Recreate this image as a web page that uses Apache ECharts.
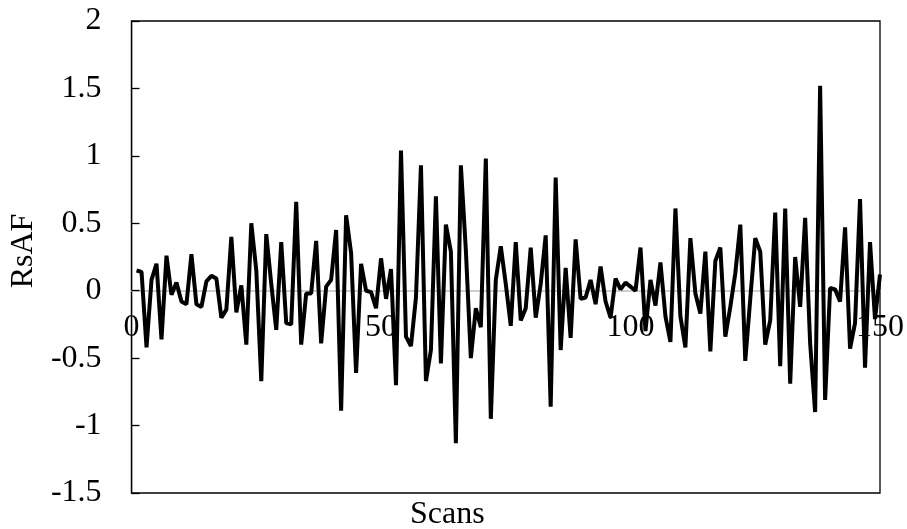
<!DOCTYPE html>
<html>
<head>
<meta charset="utf-8">
<script src="https://cdn.jsdelivr.net/npm/echarts@6/dist/echarts.min.js"></script>
<style>
  html, body { margin: 0; padding: 0; background: #fff; }
  #chart { width: 907px; height: 529px; }
</style>
</head>
<body>
<div id="chart"></div>
<script>
// RsAF value for each scan, scans 1..150
const rsaf = [
  0.15, 0.14, -0.42, 0.08, 0.2, -0.36, 0.26, -0.03, 0.06, -0.08,
  -0.1, 0.27, -0.1, -0.12, 0.07, 0.11, 0.09, -0.2, -0.14, 0.4,
  -0.16, 0.04, -0.4, 0.5, 0.15, -0.67, 0.42, 0.05, -0.29, 0.36,
  -0.24, -0.25, 0.66, -0.4, -0.02, -0.02, 0.37, -0.39, 0.03, 0.08,
  0.45, -0.89, 0.56, 0.28, -0.61, 0.2, 0.0, -0.01, -0.13, 0.24,
  -0.06, 0.16, -0.7, 1.04, -0.34, -0.41, -0.05, 0.93, -0.67, -0.44,
  0.7, -0.54, 0.49, 0.29, -1.13, 0.93, 0.3, -0.5, -0.13, -0.27,
  0.98, -0.95, 0.08, 0.33, 0.05, -0.26, 0.36, -0.22, -0.13, 0.32,
  -0.2, 0.05, 0.41, -0.86, 0.84, -0.44, 0.17, -0.35, 0.38, -0.06,
  -0.05, 0.08, -0.1, 0.18, -0.08, -0.2, 0.09, 0.01, 0.06, 0.03,
  0.0, 0.32, -0.3, 0.08, -0.11, 0.21, -0.19, -0.38, 0.61, -0.19,
  -0.42, 0.39, -0.02, -0.17, 0.29, -0.45, 0.22, 0.32, -0.34, -0.12,
  0.13, 0.49, -0.52, -0.06, 0.39, 0.29, -0.4, -0.22, 0.58, -0.56,
  0.61, -0.69, 0.25, -0.12, 0.54, -0.39, -0.9, 1.52, -0.81, 0.02,
  0.01, -0.08, 0.47, -0.43, -0.24, 0.68, -0.57, 0.36, -0.21, 0.12
]
const scans = rsaf.map((v, i) => i + 1)

const xName = 'Scans'
const yName = 'RsAF'
const yMin = -1.5
const yMax = 2
const font = 'Liberation Serif, Times New Roman, serif'

const gridTop = 21
const gridBottom = 36
const plotH = 529 - gridTop - gridBottom
// the x axis sits on y = 0, so lift it up from the bottom edge
const zeroOffset = -plotH * (0 - yMin) / (yMax - yMin)

let chart = echarts.init(document.getElementById('chart'))

let opts = {
  animation: false,
  backgroundColor: '#fff',
  title: {
    text: xName,
    left: 410,
    top: 499,
    padding: 0,
    textStyle: {
      fontFamily: font,
      fontSize: 32,
      fontWeight: 'normal',
      color: '#000'
    }
  },
  grid: {
    left: 130,
    right: 25,
    top: gridTop,
    bottom: gridBottom,
    show: true,
    borderColor: '#000',
    borderWidth: 1.3,
    containLabel: false
  },
  xAxis: {
    type: 'value',
    min: 0,
    max: 150,
    interval: 50,
    position: 'bottom',
    offset: zeroOffset,
    axisLine: {
      onZero: false,
      lineStyle: { color: '#bfbfbf', width: 1.5 }
    },
    axisTick: { show: false },
    splitLine: { show: false },
    axisLabel: {
      margin: 21,
      fontFamily: font,
      fontSize: 32,
      color: '#000'
    }
  },
  yAxis: {
    type: 'value',
    min: yMin,
    max: yMax,
    interval: 0.5,
    name: yName,
    nameLocation: 'middle',
    nameGap: 88,
    nameTextStyle: {
      fontFamily: font,
      fontSize: 32,
      color: '#000',
      padding: [0, 0, 0, 12]
    },
    axisLine: {
      show: true,
      onZero: false,
      lineStyle: { color: '#000', width: 1.3 }
    },
    axisTick: {
      show: true,
      inside: true,
      length: 8,
      lineStyle: { color: '#000', width: 1.3 }
    },
    splitLine: { show: false },
    axisLabel: {
      margin: 30,
      fontFamily: font,
      fontSize: 32,
      color: '#000'
    }
  },
  series: [{
    type: 'line',
    data: scans.map((s, i) => [s, rsaf[i]]),
    showSymbol: false,
    lineStyle: { color: '#000', width: 4 },
    z: 5
  }]
}
chart.setOption(opts)
</script>
</body>
</html>
